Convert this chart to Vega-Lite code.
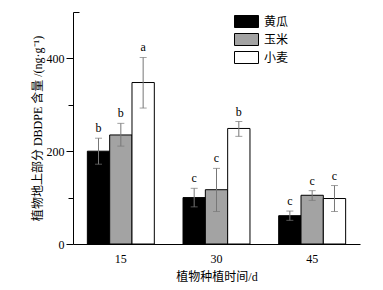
{
  "$schema": "https://vega.github.io/schema/vega-lite/v6.json",
  "width": 287,
  "height": 232,
  "autosize": "none",
  "padding": {"left": 73, "top": 12, "right": 23, "bottom": 46},
  "background": "white",
  "config": {
    "view": {"stroke": null},
    "font": "Liberation Serif, Noto Sans CJK SC",
    "axis": {"labelFont": "Liberation Serif", "titleFont": "Liberation Serif, Noto Sans CJK SC", "domainColor": "#000", "tickColor": "#000", "labelColor": "#000", "titleColor": "#000", "grid": false, "titleFontWeight": "normal"}
  },
  "data": {
    "values": [
      {"day": "15", "crop": "黄瓜", "value": 200, "lo": 172, "hi": 228, "sig": "b"},
      {"day": "15", "crop": "玉米", "value": 235, "lo": 211, "hi": 260, "sig": "b"},
      {"day": "15", "crop": "小麦", "value": 348, "lo": 293, "hi": 402, "sig": "a"},
      {"day": "30", "crop": "黄瓜", "value": 100, "lo": 80, "hi": 120, "sig": "c"},
      {"day": "30", "crop": "玉米", "value": 117, "lo": 70, "hi": 163, "sig": "c"},
      {"day": "30", "crop": "小麦", "value": 249, "lo": 232, "hi": 264, "sig": "b"},
      {"day": "45", "crop": "黄瓜", "value": 61, "lo": 51, "hi": 71, "sig": "c"},
      {"day": "45", "crop": "玉米", "value": 105, "lo": 94, "hi": 115, "sig": "c"},
      {"day": "45", "crop": "小麦", "value": 98, "lo": 70, "hi": 126, "sig": "c"}
    ]
  },
  "encoding": {
    "x": {
      "field": "day", "type": "nominal",
      "scale": {"paddingInner": 0.3, "paddingOuter": 0.15},
      "axis": {"title": "植物种植时间/d", "labelAngle": 0, "ticks": false, "labelFontSize": 12, "labelPadding": 9, "titleFontSize": 12, "titlePadding": 7, "domainWidth": 1}
    },
    "xOffset": {"field": "crop", "type": "nominal", "sort": ["黄瓜", "玉米", "小麦"], "scale": {"paddingInner": 0, "paddingOuter": 0}}
  },
  "layer": [
    {
      "mark": {"type": "bar", "stroke": "#000", "strokeWidth": 1},
      "encoding": {
        "y": {
          "field": "value", "type": "quantitative",
          "scale": {"domain": [0, 500], "nice": false},
          "axis": {
            "title": "植物地上部分 DBDPE 含量 /(ng·g⁻¹)",
            "values": [0, 100, 200, 300, 400, 500],
            "labelExpr": "datum.value % 200 == 0 && datum.value < 500 ? datum.label : ''",
            "labelFontSize": 12,
            "labelPadding": 2,
            "tickSize": {"condition": [{"test": "datum.value == 500", "value": -6}, {"test": "datum.value % 200 == 0", "value": 7}], "value": 5},
            "titleFontSize": 12,
            "titlePadding": 2,
            "domainWidth": 1
          }
        },
        "fill": {
          "field": "crop", "type": "nominal",
          "sort": ["黄瓜", "玉米", "小麦"],
          "scale": {"domain": ["黄瓜", "玉米", "小麦"], "range": ["#000000", "#a3a3a3", "#ffffff"]},
          "legend": {
            "title": null,
            "orient": "none",
            "legendX": 167,
            "legendY": 3,
            "symbolType": "M-2,-1H2V1H-2Z",
            "symbolSize": 144,
            "symbolStrokeColor": "#000",
            "symbolStrokeWidth": 1,
            "symbolOpacity": 1,
            "labelFont": "Noto Sans CJK SC",
            "labelFontSize": 12,
            "labelColor": "#000",
            "labelOffset": 11,
            "rowPadding": 1
          }
        }
      }
    },
    {
      "mark": {"type": "rule", "color": "#777", "strokeWidth": 1},
      "encoding": {"y": {"field": "lo", "type": "quantitative"}, "y2": {"field": "hi"}}
    },
    {
      "mark": {"type": "tick", "color": "#777", "thickness": 1, "size": 7},
      "encoding": {"y": {"field": "lo", "type": "quantitative"}}
    },
    {
      "mark": {"type": "tick", "color": "#777", "thickness": 1, "size": 7},
      "encoding": {"y": {"field": "hi", "type": "quantitative"}}
    },
    {
      "mark": {"type": "text", "baseline": "bottom", "dy": -3, "fontSize": 12, "font": "Liberation Serif", "fill": "#000"},
      "encoding": {"y": {"field": "hi", "type": "quantitative"}, "text": {"field": "sig"}}
    }
  ]
}
